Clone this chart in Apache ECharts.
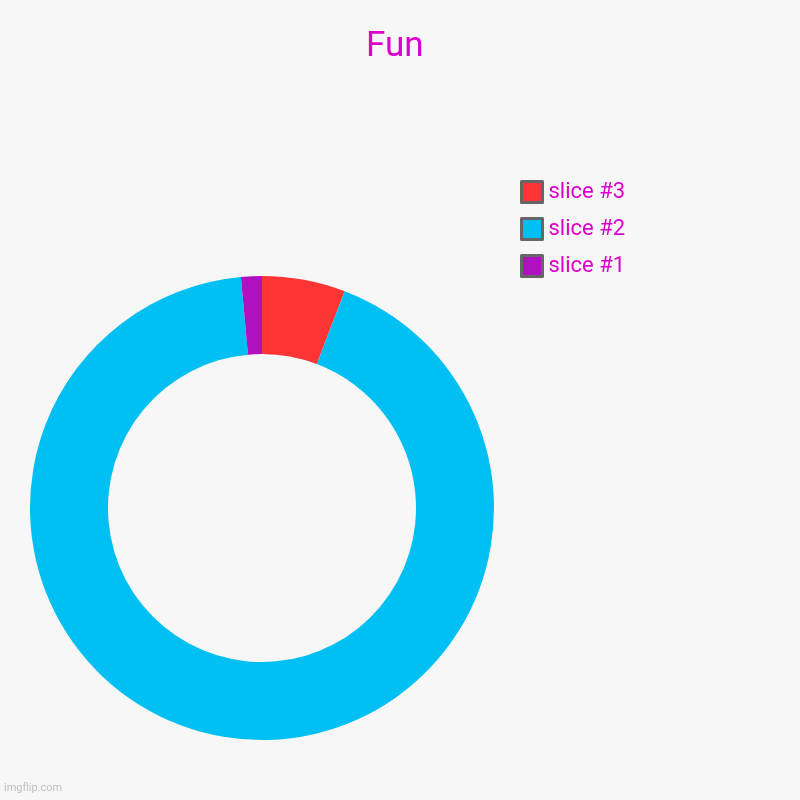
<!DOCTYPE html>
<html><head><meta charset="utf-8">
<script src="https://cdn.jsdelivr.net/npm/echarts@6/dist/echarts.min.js"></script>
<style>html,body{margin:0;padding:0;background:#f7f7f7;}#c{width:800px;height:800px;}</style>
</head><body><div id="c"></div>
<script>
const categories = ['slice #3', 'slice #2', 'slice #1'];
const values = [4, 64, 1];
const colors = ['#ff3535', '#00bff2', '#b011c0'];
const chart = echarts.init(document.getElementById('c'));
chart.setOption({
  backgroundColor: '#f7f7f7',
  animation: false,
  title: {
    text: 'Fun', left: 366, top: 30, padding: 0,
    textStyle: { color: '#dd00cc', fontSize: 35, fontWeight: 'normal', fontFamily: 'Roboto' }
  },
  graphic: [{
    type: 'text', left: 4, top: 783,
    style: { text: 'imgflip.com', fill: '#c0c0c0', font: '11px Roboto' }
  }],
  legend: {
    orient: 'vertical', left: 520, top: 180, padding: 0,
    itemWidth: 21, itemHeight: 21, itemGap: 13,
    icon: 'rect',
    data: categories,
    itemStyle: { borderColor: '#666', borderWidth: 3 },
    textStyle: { color: '#dd00cc', fontSize: 22, lineHeight: 24, fontFamily: 'Roboto', padding: [0, 0, 0, 1] }
  },
  series: [{
    type: 'pie',
    center: [262, 508],
    radius: [154, 232],
    startAngle: 90,
    clockwise: true,
    label: { show: false },
    labelLine: { show: false },
    emphasis: { disabled: true },
    data: categories.map((c, i) => ({ name: c, value: values[i], itemStyle: { color: colors[i] } }))
  }]
});
</script></body></html>
